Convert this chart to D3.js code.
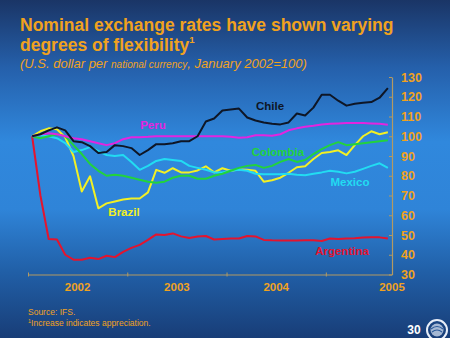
<!DOCTYPE html>
<html>
<head>
<meta charset="utf-8">
<script src="https://cdn.jsdelivr.net/npm/d3@7"></script>
<style>
  html, body { margin: 0; padding: 0; background: #1b3768; }
  svg { display: block; font-family: Arial, "Liberation Sans", sans-serif; }
</style>
</head>
<body>
<div id="chart"></div>
<script>
// monthly index, January 2002 = 100 (Jan 2002 .. Aug 2005)
const chile = [100, 101, 103, 104.5, 103, 97.5, 97, 95, 91.5, 92, 95.5, 95, 94, 90.5, 93, 96, 96, 96.5, 97.5, 97.5,
  100, 107.5, 109, 113, 113.5, 114, 109.5, 108, 107, 106.3, 106, 107, 111.5, 110.5, 114.5, 121, 121, 118, 115.5, 116.5,
  117, 117.3, 119.5, 124.4]
const peru = [100, 101, 101.5, 101, 100, 99, 98.5, 97.5, 96.5, 95.5, 96.5, 98.5, 99.5, 99.5, 99.7, 100, 100, 100, 100, 100,
  100, 100, 100, 100, 99.7, 99.2, 99.5, 100.5, 100.5, 100.3, 101, 103, 104, 104.8, 105.3, 106, 106.3, 106.5, 106.7, 106.7,
  106.7, 106.5, 106.3, 105.8]
const colombia = [100, 99, 100, 101, 100, 95.5, 91, 86, 82.5, 80, 80.5, 80, 79, 78, 77, 76.5, 77, 79, 80, 80,
  78.5, 78.5, 80, 81, 82.5, 84, 85, 85.5, 84, 85, 87, 88.5, 87, 88, 91, 93.5, 95.5, 97, 95.5, 96,
  96.5, 97, 97.5, 98]
const mexico = [100, 100.5, 100, 99, 96.5, 92, 93, 94.5, 92.5, 90.5, 90, 90.5, 87, 83, 85, 87.5, 88.5, 88, 87.5, 85,
  84, 83, 81.7, 81.7, 82.5, 83, 82.5, 81, 80.8, 80.7, 80.7, 81, 80.5, 80.2, 81, 81.7, 82.5, 82, 81.2, 82,
  83.5, 85, 86.3, 84]
const brazil = [100, 102.5, 104, 103.5, 99.5, 90, 72, 79.7, 63.5, 66, 67, 68, 68.5, 68.5, 71.6, 83, 81.5, 83.8, 81.7, 81.7,
  82.7, 84.8, 81.7, 83.8, 82.5, 83.2, 83, 82.5, 77, 77.7, 79, 81.5, 84.3, 84.8, 88.5, 91.5, 92, 92.9, 90.5, 95.5,
  100, 102.5, 101, 102]
const argentina = [100, 70, 48, 47.7, 40, 37.5, 37.5, 38.5, 37.8, 39.5, 38.8, 41.5, 43.5, 45, 47.5, 50.3, 50, 50.8, 49.3, 48.5,
  49.2, 49.5, 47.7, 48, 48.2, 48.2, 49.5, 49.3, 47.5, 47.3, 47.2, 47.2, 47.2, 47.3, 47.3, 47, 48.2, 48, 48.2, 48.3,
  48.7, 48.8, 48.8, 48.2]

const yearLabels = ['2002', '2003', '2004', '2005']
const yTicks = [30, 40, 50, 60, 70, 80, 90, 100, 110, 120, 130]

const series = [
  {name: 'Chile', values: chile, color: '#0e1626', label: [270, 110]},
  {name: 'Peru', values: peru, color: '#e424e0', label: [153, 129]},
  {name: 'Colombia', values: colombia, color: '#22d33c', label: [278, 156]},
  {name: 'Mexico', values: mexico, color: '#22dcf2', label: [350, 186]},
  {name: 'Brazil', values: brazil, color: '#f2f024', label: [124, 216]},
  {name: 'Argentina', values: argentina, color: '#e4142e', label: [342, 255]}
]

const W = 450, H = 338
const orange = '#f0a21e'
const axisColor = '#b39a62'

const svg = d3.select('#chart').append('svg')
  .attr('width', W)
  .attr('height', H)

// background
const defs = svg.append('defs')
const grad = defs.append('linearGradient')
  .attr('id', 'bg').attr('x1', 0).attr('y1', 0).attr('x2', 0).attr('y2', 1)
grad.selectAll('stop').data([
  [0, '#1a3566'], [0.2, '#2560ab'], [0.42, '#3088dd'], [0.62, '#2f84d8'], [0.8, '#2160a8'], [1, '#183d77']
]).enter().append('stop')
  .attr('offset', d => d[0])
  .attr('stop-color', d => d[1])
svg.append('rect').attr('width', W).attr('height', H).attr('fill', 'url(#bg)')

// title
const title = svg.append('g').attr('fill', orange).attr('font-weight', 'bold')
title.append('text').attr('x', 20).attr('y', 31).attr('font-size', 17.5)
  .text('Nominal exchange rates have shown varying')
const t2 = title.append('text').attr('x', 20).attr('y', 51).attr('font-size', 17.5)
t2.append('tspan').text('degrees of flexibility')
t2.append('tspan').attr('font-size', 9.5).attr('dy', -8).text('1')

const sub = svg.append('text').attr('x', 20).attr('y', 68)
  .attr('fill', orange).attr('font-size', 13).attr('font-style', 'italic')
sub.append('tspan').text('(U.S. dollar per ')
sub.append('tspan').attr('font-size', 10).text('national currency')
sub.append('tspan').text(', January 2002=100)')

// scales
const nMonths = chile.length
const x = d3.scaleLinear().domain([0, nMonths]).range([28, 392])
const y = d3.scaleLinear().domain([30, 130]).range([274.5, 77])

// y axis on the right
const yAxis = svg.append('g')
  .attr('transform', `translate(${x.range()[1]},0)`)
  .call(d3.axisRight(y).tickValues(yTicks).tickSize(0).tickPadding(9))
yAxis.select('.domain').attr('stroke', axisColor).attr('stroke-width', 1.2)
yAxis.selectAll('.tick').append('line')
  .attr('x1', -3).attr('x2', 0).attr('stroke', axisColor)
yAxis.selectAll('text')
  .attr('fill', orange).attr('font-size', 12.5).attr('font-weight', 'bold')
  .attr('font-family', 'Arial, "Liberation Sans", sans-serif')

// x axis: year boundaries as ticks, labels centred in each year
const xAxis = svg.append('g')
  .attr('transform', `translate(0,${y(30)})`)
  .call(d3.axisBottom(x).tickValues([0, 12, 24, 36]).tickSize(0).tickFormat(''))
xAxis.select('.domain').attr('stroke', axisColor).attr('stroke-width', 1.2)
xAxis.selectAll('.tick').append('line')
  .attr('y1', -2).attr('y2', 2).attr('stroke', axisColor)

svg.append('g').selectAll('text').data(yearLabels).enter().append('text')
  .attr('x', (d, i) => i < 3 ? x(i * 12 + 6) : x(nMonths))
  .attr('y', 291)
  .attr('text-anchor', 'middle')
  .attr('fill', orange).attr('font-size', 11.5).attr('font-weight', 'bold')
  .text(d => d)

// series lines
const line = d3.line()
  .x((d, i) => x(i + 0.5))
  .y(d => y(d))

svg.append('g').selectAll('path').data(series.slice().reverse()).enter().append('path')
  .attr('d', d => line(d.values))
  .attr('fill', 'none')
  .attr('stroke', d => d.color)
  .attr('stroke-width', 2)
  .attr('stroke-linejoin', 'round')

svg.append('g').selectAll('text').data(series).enter().append('text')
  .attr('x', d => d.label[0])
  .attr('y', d => d.label[1])
  .attr('text-anchor', 'middle')
  .attr('fill', d => d.color)
  .attr('font-size', 11.5).attr('font-weight', 'bold')
  .text(d => d.name)

// footnotes
const foot = svg.append('g').attr('fill', orange).attr('font-size', 8.5)
foot.append('text').attr('x', 28).attr('y', 315).text('Source: IFS.')
const f2 = foot.append('text').attr('x', 28).attr('y', 326)
f2.append('tspan').attr('font-size', 5.5).attr('dy', -3).text('1')
f2.append('tspan').attr('dy', 3).text('Increase indicates appreciation.')

// page number and seal
svg.append('text').attr('x', 414).attr('y', 334).attr('text-anchor', 'middle')
  .attr('fill', '#ffffff').attr('font-size', 12).attr('font-weight', 'bold').text('30')
const seal = svg.append('g').attr('transform', 'translate(437,330)')
seal.append('circle').attr('r', 10).attr('fill', 'none').attr('stroke', '#e8eef8').attr('stroke-width', 2)
seal.append('circle').attr('r', 6.5).attr('fill', '#c8d6ea').attr('opacity', 0.8)
seal.append('path').attr('d', 'M-6,-1 Q0,-6 6,-1 M-5,2 Q0,-2 5,2')
  .attr('fill', 'none').attr('stroke', '#2a5a9a').attr('stroke-width', 1.2)
</script>
</body>
</html>
